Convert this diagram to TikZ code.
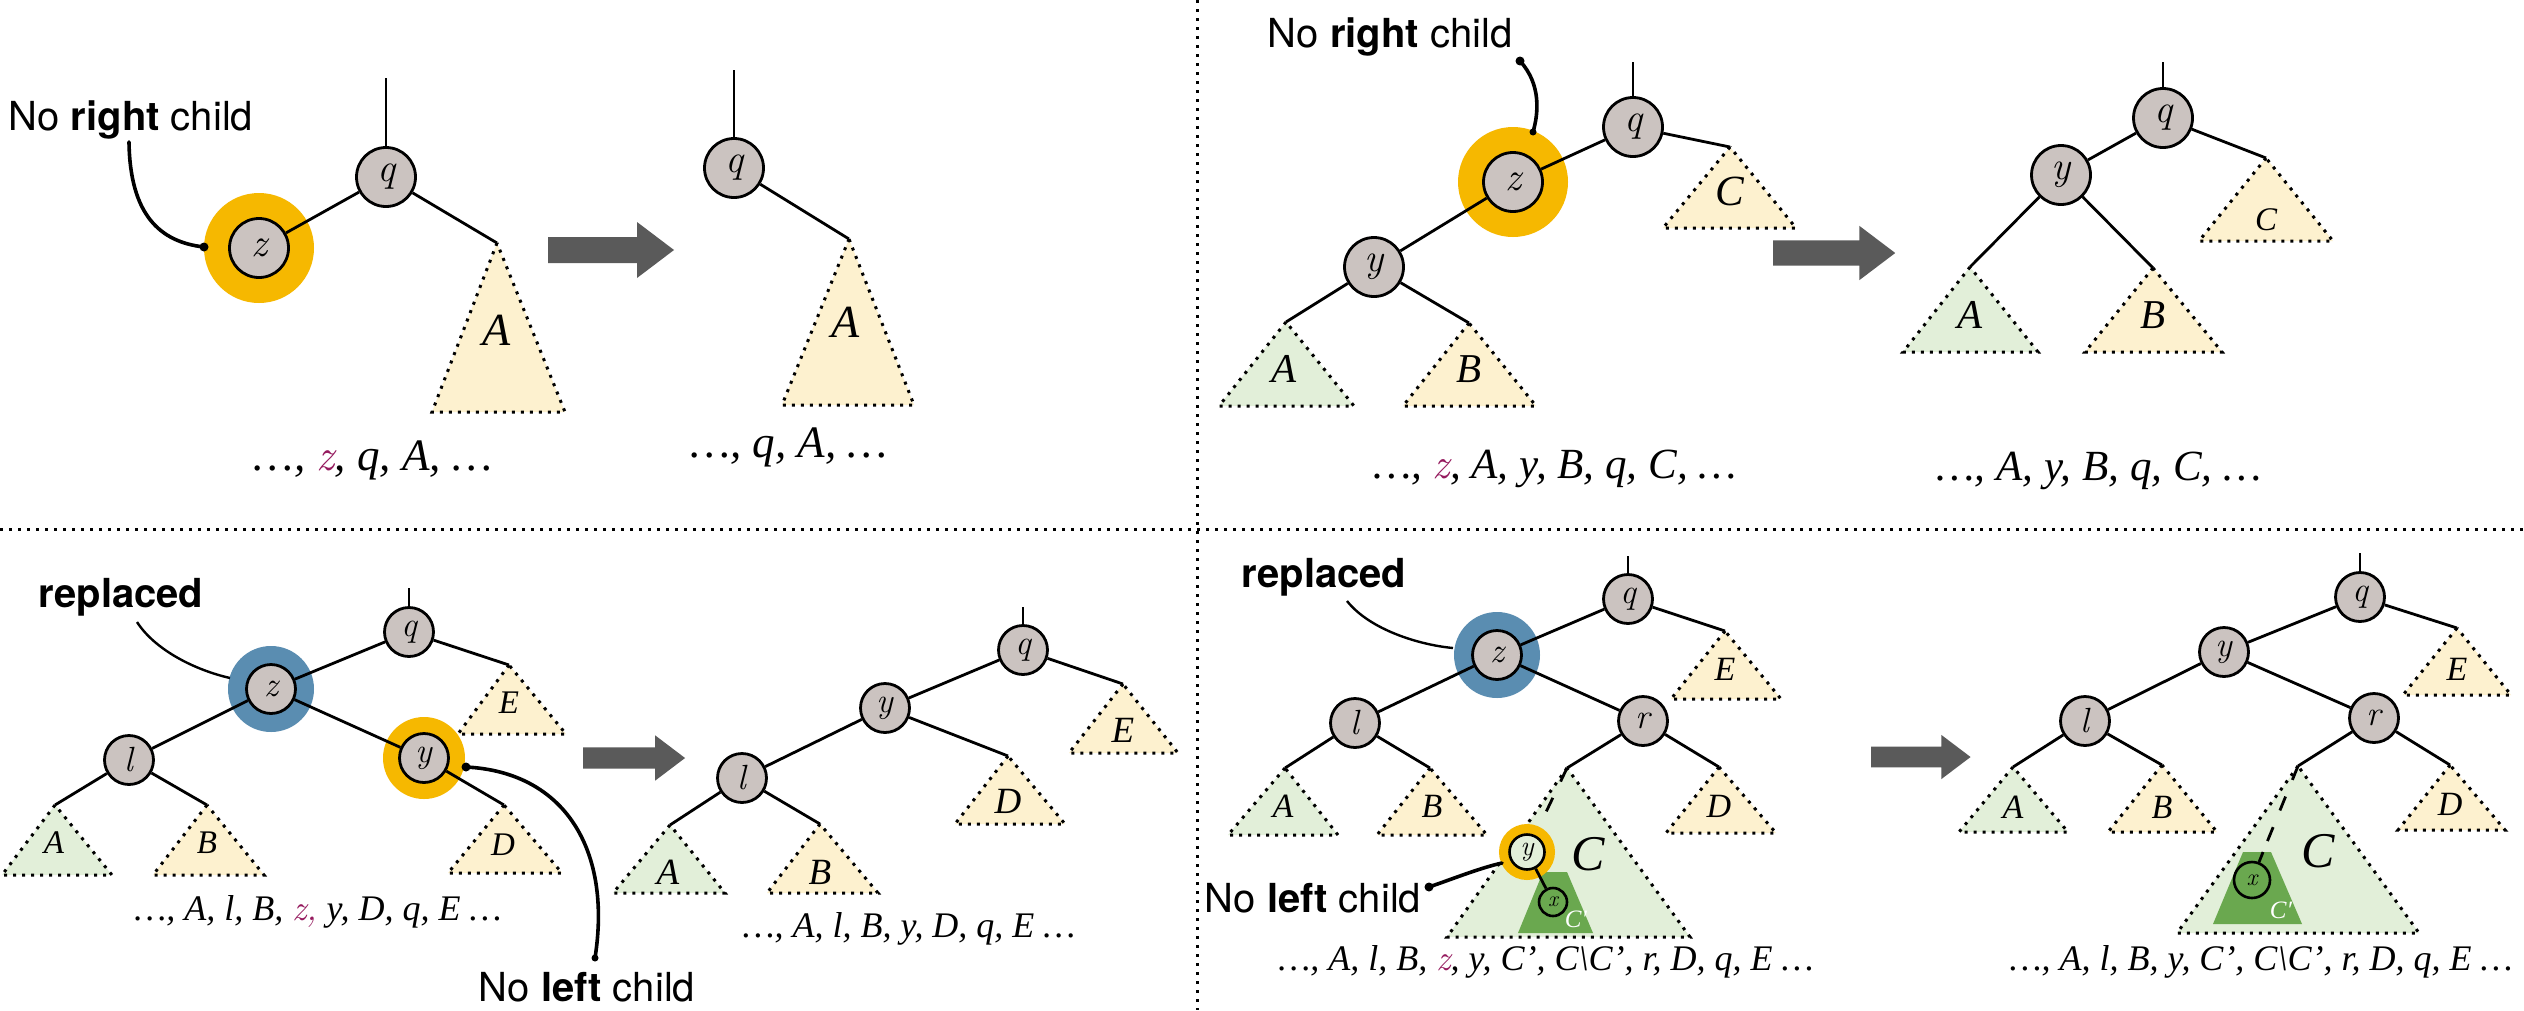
\documentclass[tikz,border=0pt]{standalone}
\usepackage{fontspec}
\setmainfont{Liberation Serif}
\newfontfamily\helv{TeX Gyre Heros}
\newfontfamily\lmr{Latin Modern Roman}
\definecolor{nodegrey}{HTML}{CBC3C0}
\definecolor{ringorange}{HTML}{F6B800}
\definecolor{ringblue}{HTML}{5A8DB1}
\definecolor{lgreen}{HTML}{E2EFD9}
\definecolor{lyellow}{HTML}{FDF1CF}
\definecolor{dgreen}{HTML}{6AA84F}
\definecolor{zpurple}{HTML}{951A5E}
\definecolor{arrowgrey}{HTML}{5A5A5A}
\newcommand\fsz[1]{\fontsize{#1}{#1}\selectfont}
\newcommand\subtree[6]{%
  \coordinate (#1) at (#2);
  \path[dotb,draw,fill=#6] (#1) -- (#3,#5) -- (#4,#5) -- cycle;}
\newcommand\blockarr[3]{%
  \begin{scope}[shift={(#1,#2)},scale=#3]
    \fill[arrowgrey] (0,-13) -- (89,-13) -- (89,-28) -- (126,0) -- (89,28) -- (89,13) -- (0,13) -- cycle;
  \end{scope}}
\begin{document}
\begin{tikzpicture}[x=1pt,y=-1pt,
  tnode/.style={circle,draw,line width=2.8pt,fill=nodegrey,inner sep=0pt,minimum size=59pt,font=\fsz{40}\lmr\itshape},
  bnode/.style={tnode,minimum size=49pt,font=\fsz{35}\lmr\itshape},
  oring/.style={circle,fill=ringorange,inner sep=0pt,minimum size=110pt},
  boring/.style={circle,fill=ringorange,inner sep=0pt,minimum size=82pt},
  bluering/.style={circle,fill=ringblue,inner sep=0pt,minimum size=86pt},
  edge/.style={line width=2.8pt},
  dotb/.style={line width=3pt,dash pattern=on 3pt off 6pt},
  tlabel/.style={anchor=base,inner sep=0pt},
  seqtext/.style={anchor=base,inner sep=0pt},
  callout/.style={anchor=base,inner sep=0pt,font=\helv\fsz{40}},
  pointer/.style={line width=3.6pt,line cap=round},
  thinpointer/.style={line width=2.4pt},
]
\useasboundingbox (0,0) rectangle (2524,1010);
\fill[white] (0,0) rectangle (2524,1010);

% dividers
\draw[dotb] (1197,0) -- (1197,1010);
\draw[dotb] (0,529) -- (2524,529);

% ================= Panel 1 =================
\node[oring] (z1r) at (259,248) {};
\node[tnode] (z1) at (259,248) {z};
\node[tnode] (q1) at (386,177) {q};
\coordinate (q1up) at (386,78);
\subtree{a1}{497,243}{432}{565}{412}{lyellow}
\node[tlabel,font=\fsz{46}\itshape] (a1l) at (497,345) {A};
\draw[edge] (q1) -- (q1up);
\draw[edge] (z1) -- (q1);
\draw[edge] (q1) -- (a1);
\node[callout] (nr1) at (131,130) {No \textbf{right} child};
\coordinate (nr1s) at (129,142);
\coordinate (nr1e) at (204,247);
\draw[pointer] (nr1s) .. controls (130,215) and (160,242) .. (nr1e);
\fill (nr1e) circle[radius=4.5];
\node[seqtext,font=\fsz{45}\itshape] (s1) at (373,470) {…, {\lmr\color{zpurple}z}, q, A, …};
\blockarr{548}{250}{1}
\node[tnode] (q1b) at (734,168) {q};
\coordinate (q1bup) at (734,70);
\subtree{a1b}{849,239}{782}{914}{405}{lyellow}
\node[tlabel,font=\fsz{46}\itshape] (a1bl) at (846,337) {A};
\draw[edge] (q1b) -- (q1bup);
\draw[edge] (q1b) -- (a1b);
\node[seqtext,font=\fsz{45}\itshape] (s1b) at (789,457) {…, q, A, …};

% ================= Panel 2 =================
\node[callout] (nr2) at (1390,47) {No \textbf{right} child};
\node[oring] (z2r) at (1513,182) {};
\node[tnode] (z2) at (1513,182) {z};
\node[tnode] (q2) at (1633,127) {q};
\node[tnode] (y2) at (1374,267) {y};
\coordinate (q2up) at (1633,62);
\subtree{c2}{1730,147}{1663}{1796}{228}{lyellow}
\subtree{a2}{1286,322}{1219}{1354}{406}{lgreen}
\subtree{b2}{1469,323}{1403}{1536}{406}{lyellow}
\node[tlabel,font=\fsz{43}\itshape] (c2l) at (1730,205) {C};
\node[tlabel,font=\fsz{41}\itshape] (a2l) at (1284,382) {A};
\node[tlabel,font=\fsz{41}\itshape] (b2l) at (1469,382) {B};
\draw[edge] (q2) -- (q2up);
\draw[edge] (z2) -- (q2);
\draw[edge] (z2) -- (y2);
\draw[edge] (q2) -- (c2);
\draw[edge] (y2) -- (a2);
\draw[edge] (y2) -- (b2);
\coordinate (nr2s) at (1520,61);
\coordinate (nr2e) at (1533,132);
\draw[pointer] (nr2s) .. controls (1542,85) and (1538,115) .. (nr2e);
\fill (nr2s) circle[radius=4.5];
\fill (nr2e) circle[radius=3.5];
\node[seqtext,font=\fsz{43}\itshape] (s2) at (1555,478) {…, {\lmr\color{zpurple}z}, A, y, B, q, C, …};
\blockarr{1773}{253}{0.97}
\node[tnode] (q2b) at (2163,118) {q};
\node[tnode] (y2b) at (2061,175) {y};
\coordinate (q2bup) at (2163,62);
\subtree{c2b}{2266,158}{2199}{2333}{241}{lyellow}
\subtree{a2b}{1970,267}{1903}{2038}{352}{lgreen}
\subtree{b2b}{2153,268}{2085}{2222}{352}{lyellow}
\node[tlabel,font=\fsz{33}\itshape] (c2bl) at (2266,230) {C};
\node[tlabel,font=\fsz{41}\itshape] (a2bl) at (1970,328) {A};
\node[tlabel,font=\fsz{41}\itshape] (b2bl) at (2153,328) {B};
\draw[edge] (q2b) -- (q2bup);
\draw[edge] (q2b) -- (y2b);
\draw[edge] (q2b) -- (c2b);
\draw[edge] (y2b) -- (a2b);
\draw[edge] (y2b) -- (b2b);
\node[seqtext,font=\fsz{43}\itshape] (s2b) at (2099,480) {…, A, y, B, q, C, …};

% ================= Panel 3 =================
\node[callout,font=\helv\bfseries\fsz{40}] (rep3) at (121,607) {replaced};
\node[bluering] (z3r) at (271,689) {};
\node[boring] (y3r) at (424,758) {};
\node[bnode] (z3) at (271,689) {z};
\node[bnode] (q3) at (409,632) {q};
\node[bnode] (l3) at (129,760) {l};
\node[bnode] (y3) at (424,758) {y};
\coordinate (q3up) at (409,588);
\subtree{e3}{509,665}{458}{566}{734}{lyellow}
\subtree{a3}{55,805}{2}{112}{875}{lgreen}
\subtree{b3}{207,805}{153}{264}{875}{lyellow}
\subtree{d3}{504,805}{448}{562}{873}{lyellow}
\node[tlabel,font=\fsz{33}\itshape] (e3l) at (509,713) {E};
\node[tlabel,font=\fsz{33}\itshape] (a3l) at (54,853) {A};
\node[tlabel,font=\fsz{33}\itshape] (b3l) at (207,853) {B};
\node[tlabel,font=\fsz{33}\itshape] (d3l) at (503,855) {D};
\draw[edge] (q3) -- (q3up);
\draw[edge] (z3) -- (q3);
\draw[edge] (z3) -- (l3);
\draw[edge] (z3) -- (y3);
\draw[edge] (q3) -- (e3);
\draw[edge] (l3) -- (a3);
\draw[edge] (l3) -- (b3);
\draw[edge] (y3) -- (d3);
\coordinate (rep3s) at (137,622);
\coordinate (rep3e) at (230,678);
\draw[thinpointer] (rep3s) .. controls (155,650) and (195,670) .. (rep3e);
\node[callout] (nl3) at (587,1001) {No \textbf{left} child};
\coordinate (nl3s) at (466,767);
\coordinate (nl3e) at (595,958);
\draw[pointer] (nl3s) .. controls (565,772) and (612,850) .. (nl3e);
\fill (nl3s) circle[radius=4.5];
\fill (nl3e) circle[radius=3.5];
\node[seqtext,font=\fsz{36}\itshape] (s3) at (318,920) {…, A, l, B, {\lmr\color{zpurple}z,} y, D, q, E …};
\blockarr{583}{758}{0.81}
\node[bnode] (q3b) at (1023,650) {q};
\node[bnode] (y3b) at (885,708) {y};
\node[bnode] (l3b) at (742,778) {l};
\coordinate (q3bup) at (1023,607);
\subtree{e3b}{1123,684}{1069}{1178}{753}{lyellow}
\subtree{d3b}{1008,756}{955}{1065}{824}{lyellow}
\subtree{a3b}{670,825}{613}{725}{893}{lgreen}
\subtree{b3b}{820,824}{767}{878}{893}{lyellow}
\node[tlabel,font=\fsz{37}\itshape] (e3bl) at (1123,742) {E};
\node[tlabel,font=\fsz{37}\itshape] (d3bl) at (1008,813) {D};
\node[tlabel,font=\fsz{37}\itshape] (a3bl) at (668,884) {A};
\node[tlabel,font=\fsz{37}\itshape] (b3bl) at (820,884) {B};
\draw[edge] (q3b) -- (q3bup);
\draw[edge] (q3b) -- (y3b);
\draw[edge] (q3b) -- (e3b);
\draw[edge] (y3b) -- (l3b);
\draw[edge] (y3b) -- (d3b);
\draw[edge] (l3b) -- (a3b);
\draw[edge] (l3b) -- (b3b);
\node[seqtext,font=\fsz{36}\itshape] (s3b) at (909,937) {…, A, l, B, y, D, q, E …};

% ================= Panel 4 =================
\node[callout,font=\helv\bfseries\fsz{40}] (rep4) at (1324,587) {replaced};
\node[bluering] (z4r) at (1497,655) {};
\node[bnode] (z4) at (1497,655) {z};
\node[bnode] (q4) at (1628,599) {q};
\node[bnode] (l4) at (1355,723) {l};
\node[bnode] (r4) at (1643,721) {r};
\coordinate (q4up) at (1628,556);
\subtree{e4}{1725,631}{1671}{1781}{699}{lyellow}
\subtree{a4}{1285,768}{1228}{1338}{835}{lgreen}
\subtree{b4}{1430,768}{1377}{1487}{835}{lyellow}
\subtree{d4}{1719,767}{1666}{1776}{833}{lyellow}
\subtree{c4}{1567,768}{1447}{1690}{937}{lgreen}
\fill[dgreen] (1543,872) -- (1567,872) -- (1593,933) -- (1518,933) -- cycle;
\node[tlabel,font=\fsz{34}\itshape] (e4l) at (1725,680) {E};
\node[tlabel,font=\fsz{34}\itshape] (a4l) at (1283,817) {A};
\node[tlabel,font=\fsz{34}\itshape] (b4l) at (1432,817) {B};
\node[tlabel,font=\fsz{34}\itshape] (d4l) at (1719,817) {D};
\node[tlabel,font=\fsz{50}\itshape] (c4l) at (1588,870) {C};
\node[tlabel,font=\fsz{25}\itshape,text=white] (cp4l) at (1576,927) {C′};
\node[circle,draw=ringorange,line width=10pt,minimum size=46pt,inner sep=0pt] (y4sr) at (1527,852) {};
\node[circle,draw,line width=2.6pt,fill=lgreen,minimum size=35pt,inner sep=0pt,font=\fsz{28}\lmr\itshape] (y4s) at (1527,852) {y};
\node[circle,draw,line width=2.6pt,fill=dgreen,minimum size=28pt,inner sep=0pt,font=\fsz{22}\lmr\itshape] (x4) at (1553,902) {x};
\draw[edge,dash pattern=on 15pt off 18pt] (c4) -- (y4sr);
\draw[edge] (y4s) -- (x4);
\draw[edge] (q4) -- (q4up);
\draw[edge] (z4) -- (q4);
\draw[edge] (z4) -- (l4);
\draw[edge] (z4) -- (r4);
\draw[edge] (q4) -- (e4);
\draw[edge] (l4) -- (a4);
\draw[edge] (l4) -- (b4);
\draw[edge] (r4) -- (c4);
\draw[edge] (r4) -- (d4);
\coordinate (rep4s) at (1347,601);
\coordinate (rep4e) at (1453,648);
\draw[thinpointer] (rep4s) .. controls (1370,630) and (1420,645) .. (rep4e);
\node[callout] (nl4) at (1313,912) {No \textbf{left} child};
\coordinate (nl4s) at (1429,887);
\coordinate (nl4e) at (1502,863);
\draw[pointer] (nl4s) .. controls (1455,878) and (1480,868) .. (nl4e);
\fill (nl4s) circle[radius=4.5];
\node[seqtext,font=\fsz{36}\itshape] (s4) at (1546,970) {…, A, l, B, {\lmr\color{zpurple}z}, y, C’, C\textbackslash C’, r, D, q, E …};
\blockarr{1871}{757}{0.79}
\node[bnode] (q4b) at (2360,597) {q};
\node[bnode] (y4b) at (2224,652) {y};
\node[bnode] (l4b) at (2085,721) {l};
\node[bnode] (r4b) at (2374,718) {r};
\coordinate (q4bup) at (2360,553);
\subtree{e4b}{2457,628}{2403}{2511}{695}{lyellow}
\subtree{a4b}{2013,767}{1959}{2068}{832}{lgreen}
\subtree{b4b}{2162,765}{2108}{2217}{832}{lyellow}
\subtree{d4b}{2450,765}{2398}{2505}{830}{lyellow}
\subtree{c4b}{2298,766}{2177}{2419}{933}{lgreen}
\fill[dgreen] (2243,852) -- (2271,852) -- (2302,924) -- (2213,924) -- cycle;
\node[tlabel,font=\fsz{34}\itshape] (e4bl) at (2457,680) {E};
\node[tlabel,font=\fsz{34}\itshape] (a4bl) at (2013,818) {A};
\node[tlabel,font=\fsz{34}\itshape] (b4bl) at (2162,818) {B};
\node[tlabel,font=\fsz{34}\itshape] (d4bl) at (2450,815) {D};
\node[tlabel,font=\fsz{50}\itshape] (c4bl) at (2318,867) {C};
\node[tlabel,font=\fsz{25}\itshape,text=white] (cp4bl) at (2281,918) {C′};
\node[circle,draw,line width=2.6pt,fill=dgreen,minimum size=36pt,inner sep=0pt,font=\fsz{24}\lmr\itshape] (x4b) at (2252,880) {x};
\coordinate (c4bm) at (2263,852);
\draw[edge,dash pattern=on 15pt off 18pt] (c4b) -- (c4bm);
\draw[edge] (c4bm) -- (x4b);
\draw[edge] (q4b) -- (q4bup);
\draw[edge] (q4b) -- (y4b);
\draw[edge] (q4b) -- (e4b);
\draw[edge] (y4b) -- (l4b);
\draw[edge] (y4b) -- (r4b);
\draw[edge] (l4b) -- (a4b);
\draw[edge] (l4b) -- (b4b);
\draw[edge] (r4b) -- (c4b);
\draw[edge] (r4b) -- (d4b);
\node[seqtext,font=\fsz{36}\itshape] (s4b) at (2261,970) {…, A, l, B, y, C’, C\textbackslash C’, r, D, q, E …};
\end{tikzpicture}
\end{document}
